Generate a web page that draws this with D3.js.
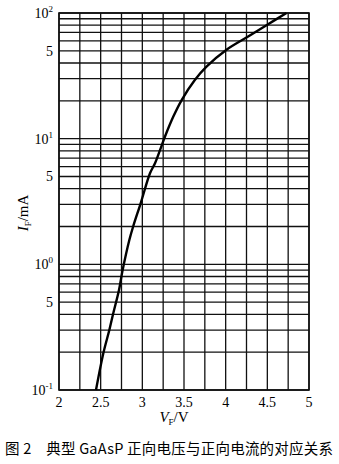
<!DOCTYPE html>
<html><head><meta charset="utf-8">
<script src="https://cdn.jsdelivr.net/npm/d3@7"></script>
<style>
html,body{margin:0;padding:0;background:#fff;}
svg{display:block;}
</style></head>
<body>
<script>
// Data
const vf = [2.444, 2.532, 2.604, 2.652, 2.72, 2.76, 2.844, 2.89, 2.98, 3.092, 3.152, 3.212, 3.272, 3.372, 3.472, 3.63, 3.77, 4.01, 4.27, 4.49, 4.73];
const iF = [0.1, 0.196, 0.30, 0.41, 0.625, 0.875, 1.56, 2.0, 3.06, 5.3, 6.37, 8.1, 10.4, 15.0, 20.3, 29.3, 37.4, 51, 65, 80, 100];
const xTickValues = [2, 2.5, 3, 3.5, 4, 4.5, 5];
const xTickLabels = ["2", "2.5", "3", "3.5", "4", "4.5", "5"];
const yTickValues = [100, 50, 10, 5, 1, 0.5, 0.1];
const yTickBase = ["10", "5", "10", "5", "10", "5", "10"];
const yTickExp = ["2", "", "1", "", "0", "", "-1"];
const caption = "图 2　典型 GaAsP 正向电压与正向电流的对应关系";

const W = 339, H = 464;
const m = {left: 59, right: 309, top: 13, bottom: 390};
const svg = d3.select("body").append("svg").attr("width", W).attr("height", H);

const x = d3.scaleLinear().domain([2, 5]).range([m.left, m.right]);
const y = d3.scaleLog().domain([0.1, 100]).range([m.bottom, m.top]);

const grid = svg.append("g").attr("stroke", "#111").attr("stroke-width", 1.3).attr("fill", "none");
// vertical grid every 0.25 V
d3.range(2, 5.0001, 0.25).forEach(v => {
  grid.append("line").attr("x1", x(v)).attr("x2", x(v)).attr("y1", m.top).attr("y2", m.bottom);
});
// horizontal grid, log minor ticks
y.ticks().forEach(t => {
  grid.append("line").attr("x1", m.left).attr("x2", m.right).attr("y1", y(t)).attr("y2", y(t));
});
grid.append("rect").attr("x", m.left).attr("y", m.top).attr("width", m.right - m.left).attr("height", m.bottom - m.top).attr("stroke-width", 1.6);

// curve
const pts = vf.map((v, i) => [v, iF[i]]);
svg.append("path").datum(pts)
  .attr("d", d3.line().x(d => x(d[0])).y(d => y(d[1])).curve(d3.curveCatmullRom.alpha(0.5)))
  .attr("fill", "none").attr("stroke", "#000").attr("stroke-width", 2.4);

const font = "'Liberation Serif','Times New Roman',serif";
// x tick labels
svg.append("g").selectAll("text").data(xTickValues).join("text")
  .attr("x", d => x(d)).attr("y", 407)
  .attr("text-anchor", "middle").attr("font-family", font).attr("font-size", 14)
  .attr("fill", "#000").text((d, i) => xTickLabels[i]);

// y tick labels
const yl = svg.append("g");
yTickValues.forEach((v, i) => {
  const t = yl.append("text").attr("x", 53).attr("y", y(v) + 5)
    .attr("text-anchor", "end").attr("font-family", font).attr("font-size", 14).attr("fill", "#000");
  t.append("tspan").text(yTickBase[i]);
  if (yTickExp[i]) t.append("tspan").attr("font-size", 9).attr("dy", -6).text(yTickExp[i]);
});

// y axis title
const yt = svg.append("text").attr("transform", "translate(28," + 213 + ") rotate(-90)")
  .attr("text-anchor", "middle").attr("font-family", font).attr("font-size", 15).attr("fill", "#000");
yt.append("tspan").attr("font-style", "italic").text("I");
yt.append("tspan").attr("font-size", 9).attr("dy", 3).text("F");
yt.append("tspan").attr("dy", -3).text("/mA");

// x axis title
const xt = svg.append("text").attr("x", 174).attr("y", 422)
  .attr("text-anchor", "middle").attr("font-family", font).attr("font-size", 15).attr("fill", "#000");
xt.append("tspan").attr("font-style", "italic").text("V");
xt.append("tspan").attr("font-size", 9).attr("dy", 3).text("F");
xt.append("tspan").attr("dy", -3).text("/V");

// caption
svg.append("text").attr("x", 5).attr("y", 454)
  .attr("font-family", "'Noto Sans CJK SC',sans-serif").attr("font-size", 14.5).attr("fill", "#000")
  .attr("textLength", 328).attr("lengthAdjust", "spacing")
  .text(caption);
</script>
</body></html>
